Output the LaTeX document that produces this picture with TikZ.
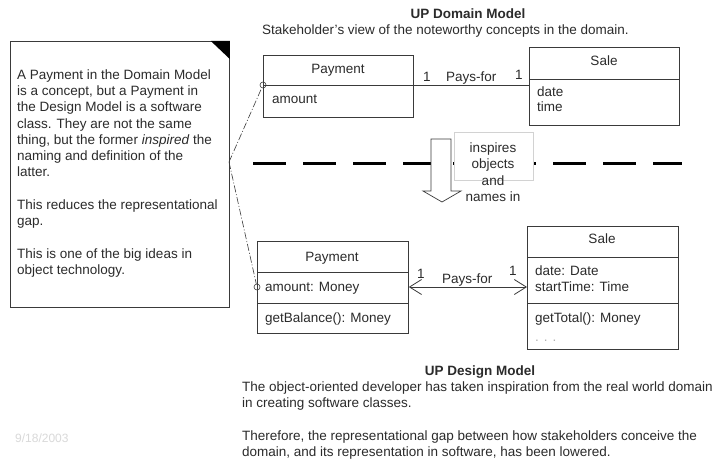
\documentclass[tikz,border=0pt]{standalone}
\usepackage{fontspec}
\setmainfont{Liberation Sans}
\usetikzlibrary{arrows.meta}
\definecolor{ink}{HTML}{2B2B2B}
\definecolor{edge}{HTML}{3A3A3A}
\tikzset{
  txt/.style={anchor=base west, inner sep=0pt, text=ink, font=\fontsize{13.5}{16.3}\selectfont},
  txtc/.style={txt, anchor=base},
  title/.style={txtc, font=\bfseries\fontsize{13.5}{16.3}\selectfont},
  classbox/.style={draw=edge, line width=0.8pt, anchor=north west, inner sep=0pt},
  divider/.style={draw=edge, line width=0.8pt},
  assocline/.style={draw=edge, line width=0.8pt},
  navarrows/.style={assocline, arrows={Straight Barb[length=12pt,width=15pt,line width=0.8pt]-Straight Barb[length=12pt,width=15pt,line width=0.8pt]}},
  pin/.style={circle, draw=edge, line width=0.6pt, minimum size=6pt, inner sep=0pt},
  dashdotline/.style={draw=edge, line width=0.6pt, dash pattern=on 7pt off 2pt on 1pt off 2pt},
  separator/.style={draw=black, line width=3pt, dash pattern=on 33pt off 17pt},
}
\begin{document}
\begin{tikzpicture}[x=1pt,y=-1pt]
\useasboundingbox[fill=white] (0,0) rectangle (717,468);

% ---------- separator (drawn first, below arrow and label) ----------
\draw[separator] (253,163) -- (682,163);

% ---------- note ----------
\node[classbox, minimum width=219pt, minimum height=266pt] (note) at (10,41) {};
\fill[black] (note.north east) ++(-19,0) -- (note.north east) -- ++(0,18) -- cycle;
\coordinate (noteR) at (229,162);
\node[txt] (n0) at (17,79.3) {A Payment in the Domain Model};
\node[txt] (n1) at (17,95.55) {is a concept, but a Payment in};
\node[txt] (n2) at (17,111.8) {the Design Model is a software};
\node[txt] (n3) at (17,128.05) {class. They are not the same};
\node[txt] (n4) at (17,144.3) {thing, but the former \textit{inspired} the};
\node[txt] (n5) at (17,160.55) {naming and definition of the};
\node[txt] (n6) at (17,176.8) {latter.};
\node[txt] (n8) at (17,209.3) {This reduces the representational};
\node[txt] (n9) at (17,225.55) {gap.};
\node[txt] (n11) at (17,258.05) {This is one of the big ideas in};
\node[txt] (n12) at (17,274.3) {object technology.};

% ---------- domain model ----------
\node[title] (dtitle) at (468,18.3) {UP Domain Model};
\node[txt] (dsub) at (262,35) {Stakeholder's view of the noteworthy concepts in the domain.};

\node[classbox, minimum width=150pt, minimum height=62pt] (payD) at (263,55) {};
\draw[divider] (payD.west |- 0,85) -- (payD.east |- 0,85);
\node[txtc] (payDn) at (338,74) {Payment};
\node[txt] (payDa) at (272,104) {amount};

\node[classbox, minimum width=150pt, minimum height=78pt] (saleD) at (529,47) {};
\draw[divider] (saleD.west |- 0,79) -- (saleD.east |- 0,79);
\node[txtc] (saleDn) at (604,66) {Sale};
\node[txt] (saleDa) at (537,97) {date};
\node[txt] (saleDb) at (537,112) {time};

\draw[assocline] (payD.east |- 0,85) -- (saleD.west |- 0,85);
\node[txt] (dm1) at (423,82) {1};
\node[txt] (dpf) at (446,82) {Pays-for};
\node[txt] (dm2) at (515,80) {1};

\node[pin] (pinD) at (263,85) {};

% ---------- inspires arrow and label ----------
\draw[draw=edge, fill=white, line width=0.7pt]
  (431,139) -- (451,139) -- (451,191) -- (461,191) -- (442,202)
  -- (423,191) -- (431,191) -- cycle;
\node[draw=gray!35, fill=white, line width=0.6pt, minimum width=79pt, minimum height=48pt, inner sep=0pt] (lbl) at (493.5,156) {};
\node[txtc] (l1) at (493,152) {inspires};
\node[txtc] (l2) at (493,168.5) {objects};
\node[txtc] (l3) at (493,185) {and};
\node[txtc] (l4) at (493,201) {names in};

% ---------- design model ----------
\node[classbox, minimum width=151pt, minimum height=92pt] (payS) at (257,241) {};
\draw[divider] (payS.west |- 0,272) -- (payS.east |- 0,272);
\draw[divider] (payS.west |- 0,303) -- (payS.east |- 0,303);
\node[txtc] (paySn) at (332,261) {Payment};
\node[txt] (paySa) at (265,291) {amount: Money};
\node[txt] (paySo) at (265,322) {getBalance(): Money};

\node[classbox, minimum width=151pt, minimum height=123pt] (saleS) at (527,226) {};
\draw[divider] (saleS.west |- 0,257) -- (saleS.east |- 0,257);
\draw[divider] (saleS.west |- 0,303) -- (saleS.east |- 0,303);
\node[txtc] (saleSn) at (602,243) {Sale};
\node[txt] (saleSa) at (535,275) {date: Date};
\node[txt] (saleSb) at (535,291) {startTime: Time};
\node[txt] (saleSo) at (535,322) {getTotal(): Money};
\node[txt, text=gray!60] (saleSd) at (535,341) {. . .};

\draw[navarrows] (payS.east |- 0,287) -- (saleS.west |- 0,287);
\node[txt] (sm1) at (417,278) {1};
\node[txt] (spf) at (442,283) {Pays-for};
\node[txt] (sm2) at (509,275) {1};

\node[pin] (pinS) at (257,287) {};

% ---------- trace lines from note ----------
\draw[dashdotline] (noteR) -- (pinD);
\draw[dashdotline] (noteR) -- (pinS);

% ---------- design model text ----------
\node[title] (stitle) at (480,375) {UP Design Model};
\node[txt] (s1) at (242,391.5) {The object-oriented developer has taken inspiration from the real world domain};
\node[txt] (s2) at (242,407.8) {in creating software classes.};
\node[txt] (s3) at (242,440.3) {Therefore, the representational gap between how stakeholders conceive the};
\node[txt] (s4) at (242,456.6) {domain, and its representation in software, has been lowered.};

\node[anchor=base west, inner sep=0pt, text=gray!30, font=\fontsize{12}{14}\selectfont] (date) at (15,442) {9/18/2003};
\end{tikzpicture}
\end{document}
